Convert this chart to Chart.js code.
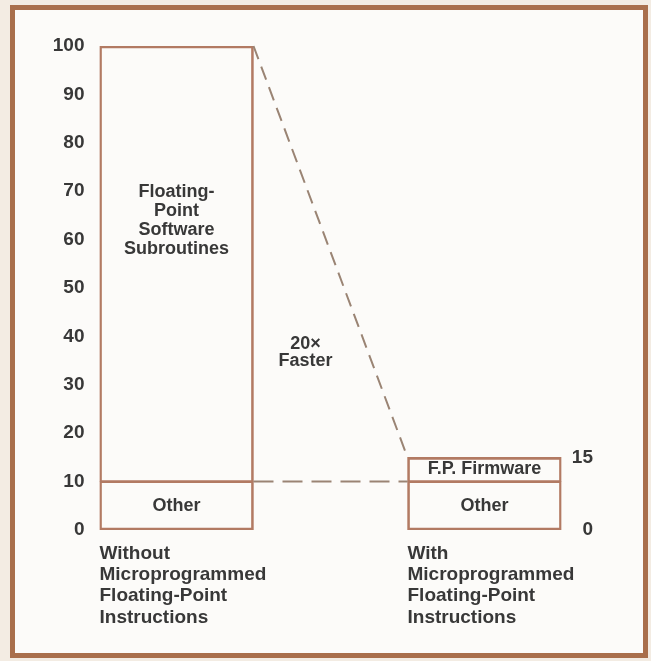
<!DOCTYPE html>
<html>
<head>
<meta charset="utf-8">
<title>Floating-point firmware speedup</title>
<script src="https://cdn.jsdelivr.net/npm/chart.js@4.4.0/dist/chart.umd.min.js"></script>
<style>
    html, body { margin: 0; padding: 0; background: #f3ece3; }
    #frame {
        position: absolute; left: 10px; top: 5px;
        width: 628px; height: 643px;
        border: 5px solid #a96f4c;
        background: #fcfbf9;
    }
    #wrap { position: absolute; left: 0; top: 0; width: 651px; height: 661px; }
</style>
</head>
<body>
<div id="frame"></div>
<div id="wrap"><canvas id="chart"></canvas></div>
<script>
    // Categories: the middle one is an empty gap between the two bars
    const categories = [
        ['Without', 'Microprogrammed', 'Floating-Point', 'Instructions'],
        '',
        ['With', 'Microprogrammed', 'Floating-Point', 'Instructions']
    ];
    const otherValues = [10, null, 10];
    const floatingPointValues = [90, null, 5];
    const otherNames = ['Other', '', 'Other'];
    const floatingPointNames = [['Floating-', 'Point', 'Software', 'Subroutines'], [], ['F.P. Firmware']];
    const speedupText = ['20×', 'Faster'];
    const leftTicks = [0, 10, 20, 30, 40, 50, 60, 70, 80, 90, 100];
    const rightTicks = [0, 15];

    const inkColor = '#383838';
    const barEdge = '#b27a63';
    const dashColor = '#9a8474';
    const fontFamily = '"Liberation Sans", Arial, Helvetica, sans-serif';

    // Draws the dashed connectors and the text inside / between the bars
    const annotate = {
        id: 'annotate',
        afterDatasetsDraw(chart, args, opts) {
            const ctx = chart.ctx;
            const lower = chart.getDatasetMeta(0).data;
            const upper = chart.getDatasetMeta(1).data;
            const yScale = chart.scales.y;
            const xScale = chart.scales.x;

            ctx.save();
            ctx.strokeStyle = dashColor;
            ctx.lineWidth = 2;

            // top of left bar to top of right bar
            const lt = upper[0], rt = upper[2];
            ctx.setLineDash([14, 8]);
            ctx.beginPath();
            ctx.moveTo(lt.x + lt.width / 2, lt.y);
            ctx.lineTo(rt.x - rt.width / 2, rt.y);
            ctx.stroke();

            // "Other" level to "Other" level
            const lo = lower[0], ro = lower[2];
            ctx.setLineDash([20, 9]);
            ctx.beginPath();
            ctx.moveTo(lo.x + lo.width / 2, lo.y);
            ctx.lineTo(ro.x - ro.width / 2, ro.y);
            ctx.stroke();
            ctx.setLineDash([]);

            ctx.fillStyle = inkColor;
            ctx.textAlign = 'center';
            ctx.textBaseline = 'middle';
            ctx.font = 'bold 18px ' + fontFamily;

            const drawLines = (lines, cx, cy, step) => {
                const top = cy - (lines.length - 1) * step / 2;
                lines.forEach((t, i) => ctx.fillText(t, cx, top + i * step));
            };

            lower.forEach((bar, i) => {
                if (!otherNames[i]) return;
                drawLines([otherNames[i]], bar.x, (bar.y + bar.base) / 2, 19);
            });
            upper.forEach((bar, i) => {
                const lines = floatingPointNames[i];
                if (!lines || !lines.length) return;
                const cy = lines.length > 1 ? yScale.getPixelForValue(opts.softwareLabelAt) : (bar.y + bar.base) / 2;
                drawLines(lines, bar.x, cy, 19);
            });

            drawLines(speedupText, xScale.getPixelForValue(1) + opts.speedupShift, yScale.getPixelForValue(opts.speedupAt), 17);
            ctx.restore();
        }
    };

    const tickFont = { family: fontFamily, size: 19, weight: 'bold' };

    new Chart(document.getElementById('chart'), {
        type: 'bar',
        data: {
            labels: categories,
            datasets: [
                {
                    label: 'Other',
                    data: otherValues,
                    backgroundColor: 'rgba(0,0,0,0)',
                    borderColor: barEdge,
                    borderWidth: { top: 1, left: 2, right: 2, bottom: 2 },
                    borderSkipped: false
                },
                {
                    label: 'Floating-point',
                    data: floatingPointValues,
                    backgroundColor: 'rgba(0,0,0,0)',
                    borderColor: barEdge,
                    borderWidth: { top: 2, left: 2, right: 2, bottom: 1 },
                    borderSkipped: false
                }
            ]
        },
        options: {
            responsive: true,
            maintainAspectRatio: false,
            animation: false,
            barPercentage: 1,
            categoryPercentage: 1,
            layout: { padding: { top: 46, left: 0, right: 58, bottom: 0 } },
            plugins: {
                legend: { display: false },
                tooltip: { enabled: false },
                annotate: { softwareLabelAt: 64, speedupAt: 36.6, speedupShift: -25 }
            },
            scales: {
                x: {
                    stacked: true,
                    offset: true,
                    grid: { display: false },
                    border: { display: false },
                    ticks: {
                        align: 'start',
                        labelOffset: -77,
                        padding: 5,
                        maxRotation: 0,
                        autoSkip: false,
                        color: inkColor,
                        font: { ...tickFont, lineHeight: 1.12 }
                    },
                    afterFit: (s) => {
                        s.height = 131;
                        s.paddingLeft = 0;
                        s.paddingRight = 0;
                    }
                },
                y: {
                    stacked: true,
                    position: 'left',
                    min: 0,
                    max: 100,
                    grid: { display: false },
                    border: { display: false },
                    afterBuildTicks: (s) => { s.ticks = leftTicks.map(v => ({ value: v })); },
                    ticks: { padding: 7, color: inkColor, font: tickFont },
                    afterFit: (s) => { s.width = 99.5; }
                },
                y2: {
                    position: 'right',
                    min: 0,
                    max: 100,
                    grid: { display: false },
                    border: { display: false },
                    afterBuildTicks: (s) => { s.ticks = rightTicks.map(v => ({ value: v })); },
                    ticks: { padding: 11, crossAlign: 'far', color: inkColor, font: tickFont },
                    afterFit: (s) => { s.width = 31.5; }
                }
            }
        },
        plugins: [annotate]
    });
</script>
</body>
</html>
